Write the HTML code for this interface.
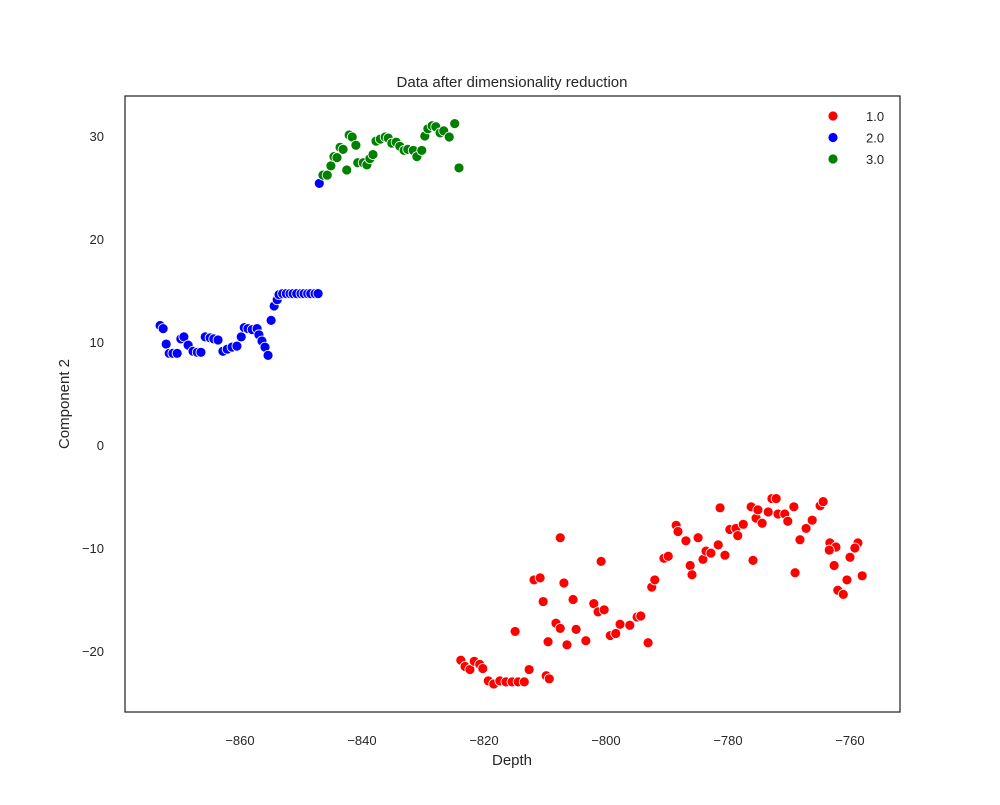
<!DOCTYPE html>
<html><head><meta charset="utf-8"><style>
body{margin:0;background:#fff;font-family:"Liberation Sans","DejaVu Sans",sans-serif}
svg text{font-family:"Liberation Sans","DejaVu Sans",sans-serif;fill:#262626}
</style></head><body>
<svg id="chart" width="1000" height="800" xmlns="http://www.w3.org/2000/svg">
<rect width="1000" height="800" fill="#fff"/>
<g id="marks"></g>
<rect x="125" y="96" width="775" height="616" fill="none" stroke="#262626" stroke-width="1.25"/>
<g id="xticks"></g><g id="yticks"></g>
<text x="512" y="87" font-size="15" text-anchor="middle">Data after dimensionality reduction</text>
<text x="512" y="765" font-size="15" text-anchor="middle">Depth</text>
<text transform="translate(69,404) rotate(-90)" font-size="15" text-anchor="middle">Component 2</text>
<g id="legend"></g>
</svg>
<script>
const xTicks=[-860,-840,-820,-800,-780,-760];
const yTicks=[-20,-10,0,10,20,30];
const classes=["1.0","2.0","3.0"];
const colors=["#ff0000","#0000ff","#008000"];
const redX=[-823.8,-823.1,-822.3,-821.6,-820.7,-820.2,-819.3,-818.4,-817.4,-816.4,-815.4,-814.4,-813.4,-812.6,-809.8,-809.3,-807.5,-811.8,-810.8,-810.3,-809.5,-808.2,-807.5,-806.9,-806.4,-805.4,-804.9,-803.3,-802.0,-801.3,-800.8,-800.3,-799.3,-798.4,-797.7,-796.1,-794.9,-794.3,-793.1,-792.5,-792.0,-790.5,-789.8,-788.5,-788.2,-786.9,-786.2,-785.9,-784.9,-784.1,-783.6,-782.8,-781.6,-781.3,-780.5,-779.7,-778.7,-778.4,-777.5,-776.2,-775.9,-775.4,-775.1,-774.4,-773.4,-772.8,-772.1,-771.8,-770.7,-770.2,-769.2,-769.0,-768.2,-767.2,-766.2,-764.9,-764.4,-763.3,-762.3,-762.0,-761.1,-760.5,-758.0,-758.7,-759.2,-760.0,-763.4,-762.6,-814.9];
const redY=[-20.9,-21.5,-21.8,-21.0,-21.3,-21.7,-22.9,-23.2,-22.9,-23.0,-23.0,-23.0,-23.0,-21.8,-22.4,-22.7,-9.0,-13.1,-12.9,-15.2,-19.1,-17.3,-17.8,-13.4,-19.4,-15.0,-17.9,-19.0,-15.4,-16.2,-11.3,-16.0,-18.5,-18.3,-17.4,-17.5,-16.7,-16.6,-19.2,-13.8,-13.1,-11.0,-10.8,-7.8,-8.4,-9.3,-11.7,-12.6,-9.0,-11.1,-10.3,-10.5,-9.7,-6.1,-10.7,-8.2,-8.1,-8.8,-7.7,-6.0,-11.2,-7.1,-6.3,-7.6,-6.5,-5.2,-5.2,-6.7,-6.7,-7.4,-6.0,-12.4,-9.2,-8.1,-7.3,-5.9,-5.5,-9.5,-9.9,-14.1,-14.5,-13.1,-12.7,-9.5,-10.0,-10.9,-10.2,-11.7,-18.1];
const blueX=[-873.1,-872.6,-872.1,-871.6,-871.0,-870.3,-869.7,-869.2,-868.5,-867.7,-867.0,-866.4,-865.7,-864.9,-864.3,-863.6,-862.8,-862.1,-861.3,-860.5,-859.8,-859.3,-858.7,-858.0,-857.2,-856.9,-856.4,-855.9,-855.4,-854.9,-854.4,-853.9,-853.6,-853.0,-852.4,-851.8,-851.3,-850.7,-850.0,-849.5,-848.9,-848.4,-847.7,-847.2,-847.0];
const blueY=[11.6,11.3,9.8,8.9,8.9,8.9,10.3,10.5,9.7,9.1,9.0,9.0,10.5,10.4,10.3,10.2,9.1,9.3,9.5,9.6,10.5,11.4,11.3,11.2,11.3,10.7,10.1,9.5,8.7,12.1,13.5,14.1,14.6,14.7,14.7,14.7,14.7,14.7,14.7,14.7,14.7,14.7,14.7,14.7,25.4];
const greenX=[-846.4,-845.7,-845.1,-844.6,-844.1,-843.6,-843.1,-842.1,-841.6,-841.0,-842.5,-840.7,-839.8,-839.2,-838.7,-838.2,-837.7,-837.0,-836.2,-835.7,-835.1,-834.4,-833.8,-833.1,-832.5,-831.6,-831.0,-830.2,-829.7,-829.2,-828.5,-827.9,-827.2,-826.6,-825.7,-824.8,-824.1];
const greenY=[26.2,26.2,27.1,28.0,27.9,28.9,28.7,30.1,29.9,29.1,26.7,27.4,27.4,27.2,27.8,28.2,29.5,29.7,29.9,29.8,29.3,29.4,29.0,28.6,28.7,28.6,28.0,28.6,30.0,30.7,31.0,30.9,30.3,30.5,29.9,31.2,26.9];

const NS="http://www.w3.org/2000/svg";
function sx(v){return 240+(v+860)*6.1;}
function sy(v){return 445-v*10.3;}
function mk(t,a){const e=document.createElementNS(NS,t);for(const k in a)e.setAttribute(k,a[k]);return e;}
const marks=document.getElementById('marks');
[[redX,redY,0],[blueX,blueY,1],[greenX,greenY,2]].forEach(([xs,ys,ci])=>{
  for(let i=0;i<xs.length;i++){
    const c=mk('circle',{cx:sx(xs[i]),cy:sy(ys[i]),r:5,fill:colors[ci],stroke:'#fff','stroke-width':0.8});
    
    
    marks.appendChild(c);
  }
});
const xg=document.getElementById('xticks');
xTicks.forEach(v=>{
  const t=mk('text',{x:sx(v),y:745,'font-size':13,'text-anchor':'middle'});
  t.textContent=String(v).replace('-','\u2212');
  
  
  xg.appendChild(t);
});
const yg=document.getElementById('yticks');
yTicks.forEach(v=>{
  const t=mk('text',{x:104,y:sy(v)+5,'font-size':13,'text-anchor':'end'});
  t.textContent=String(v).replace('-','\u2212');
  
  
  yg.appendChild(t);
});
const lg=document.getElementById('legend');
classes.forEach((c,i)=>{
  const y=116+i*21.5;
  const m=mk('circle',{cx:833,cy:y,r:5,fill:colors[i],stroke:'#fff','stroke-width':0.8});
  
  
  lg.appendChild(m);
  const t=mk('text',{x:866,y:y+5,'font-size':13});
  t.textContent=c;
  
  
  lg.appendChild(t);
});
</script>
</body></html>
